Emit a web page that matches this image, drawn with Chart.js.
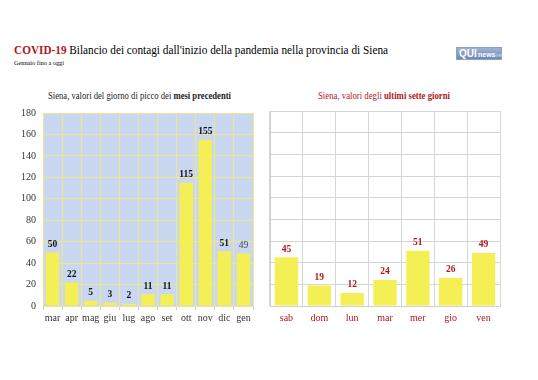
<!DOCTYPE html>
<html><head><meta charset="utf-8">
<script src="https://cdn.jsdelivr.net/npm/chart.js@4"></script>
<style>
html,body{margin:0;padding:0;background:#fff;width:538px;height:380px;overflow:hidden;font-family:"Liberation Serif","DejaVu Serif",serif;}
.t{position:absolute;white-space:nowrap;transform-origin:0 50%;line-height:1;}
#c1wrap{position:absolute;left:0;top:100px;width:262px;height:235px;}
#c2wrap{position:absolute;left:265px;top:100px;width:273px;height:235px;}
#logo{position:absolute;left:456px;top:47px;width:46px;height:13px;background:linear-gradient(#9fb3d6,#6f88b5);border:1px solid #8da0c4;box-sizing:border-box;font-family:"Liberation Sans",Arial,sans-serif;color:#fff;}
</style></head><body>
<div class="t" id="title" data-w="374" style="left:14px;top:43px;font-size:13px;"><b style="color:#b0161c">COVID-19</b> Bilancio dei contagi dall'inizio della pandemia nella provincia di Siena</div>
<div class="t" id="sub" data-w="50" style="left:14px;top:60px;font-size:7px;">Gennaio fino a oggi</div>
<div class="t" id="lt" data-w="183" style="left:48px;top:92px;font-size:9.5px;color:#222">Siena, valori del giorno di picco dei <b>mesi precedenti</b></div>
<div class="t" id="rt" data-w="132" style="left:318px;top:92px;font-size:9.5px;color:#b0161c">Siena, valori degli <b>ultimi sette giorni</b></div>
<div id="logo"><span style="position:absolute;left:2px;top:0px;font-size:10px;font-weight:bold;line-height:12px;">QUI</span><span style="position:absolute;left:21px;top:2px;font-size:7px;font-weight:bold;line-height:9px;">news</span><span style="position:absolute;left:37px;top:3px;font-size:5px;line-height:8px;color:#d8e0ef">.net</span></div>
<div id="c1wrap"><canvas id="c1"></canvas></div>
<div id="c2wrap"><canvas id="c2"></canvas></div>
<script>
const monthLabels = ['mar','apr','mag','giu','lug','ago','set','ott','nov','dic','gen'];
const monthPeaks = [50,22,5,3,2,11,11,115,155,51,49];
const dayLabels = ['sab','dom','lun','mar','mer','gio','ven'];
const dayValues = [45,19,12,24,51,26,49];
const yMax = 180;
const yStep = 20;

// fit headings to measured widths
document.querySelectorAll('.t').forEach(el=>{
  const w = parseFloat(el.dataset.w);
  const r = el.getBoundingClientRect().width;
  el.style.transform = 'scaleX(' + (w/r) + ')';
});

const SERIF = '"Liberation Serif","DejaVu Serif",serif';
const BAR = '#f4ef55';
const DARKRED = '#b0161c';

const plotBg = {
  id:'plotBg',
  beforeDraw(chart, args, opts){
    if(!opts.color) return;
    const a = chart.chartArea, ctx = chart.ctx;
    ctx.save(); ctx.fillStyle = opts.color;
    ctx.fillRect(a.left, a.top, a.right-a.left, a.bottom-a.top);
    ctx.restore();
  }
};
const valueLabels = {
  id:'valueLabels',
  afterDatasetsDraw(chart, args, opts){
    const ctx = chart.ctx;
    const meta = chart.getDatasetMeta(0);
    const data = chart.data.datasets[0].data;
    ctx.save();
    ctx.textAlign = 'center'; ctx.textBaseline = 'middle';
    meta.data.forEach((bar,i)=>{
      const s = opts.styles ? opts.styles(i) : {};
      ctx.font = (s.weight||'bold') + ' 9.5px ' + SERIF;
      ctx.fillStyle = s.color || opts.color;
      ctx.fillText(String(data[i]), bar.x, bar.y - 8);
    });
    ctx.restore();
  }
};

Chart.defaults.font.family = SERIF;
Chart.defaults.animation = false;

new Chart(document.getElementById('c1'), {
  type:'bar',
  data:{labels:monthLabels, datasets:[{data:monthPeaks, backgroundColor:BAR, barPercentage:0.7, categoryPercentage:1}]},
  options:{
    responsive:true, maintainAspectRatio:false,
    layout:{padding:{top:12,right:9,left:0,bottom:0}},
    plugins:{legend:{display:false}, tooltip:{enabled:false},
      plotBg:{color:'#c9d7f0'},
      valueLabels:{color:'#111', styles:i=> i===monthPeaks.length-1 ? {weight:'normal',color:'#444'} : {}}},
    scales:{
      x:{grid:{color:'#ebe88a', lineWidth:1, drawTicks:true, tickLength:4, tickColor:'#cccccc'}, border:{color:'#ebe88a'},
         ticks:{color:'#333', font:{size:10}, padding:2, maxRotation:0, autoSkip:false},
         afterFit(s){ s.height = 29; }},
      y:{min:0, max:yMax, ticks:{stepSize:yStep, color:'#333', font:{size:10}, padding:7},
         grid:{color:'#ebe88a', lineWidth:1, drawTicks:false}, border:{color:'#ebe88a'},
         afterFit(s){ s.width = 43; }}
    }
  },
  plugins:[plotBg, valueLabels]
});

new Chart(document.getElementById('c2'), {
  type:'bar',
  data:{labels:dayLabels, datasets:[{data:dayValues, backgroundColor:BAR, barPercentage:0.71, categoryPercentage:1}]},
  options:{
    responsive:true, maintainAspectRatio:false,
    layout:{padding:{top:11,right:38,left:5,bottom:0}},
    plugins:{legend:{display:false}, tooltip:{enabled:false}, valueLabels:{color:DARKRED}},
    scales:{
      x:{grid:{color:'#d6d6d6', lineWidth:1, drawTicks:false}, border:{color:'#cfcfcf'},
         ticks:{color:DARKRED, font:{size:10}, padding:6, maxRotation:0, autoSkip:false},
         afterFit(s){ s.height = 29; }},
      y:{min:0, max:yMax, ticks:{stepSize:yStep, display:false},
         grid:{color:'#d6d6d6', lineWidth:1, drawTicks:false}, border:{color:'#cfcfcf'},
         afterFit(s){ s.width = 0; }}
    }
  },
  plugins:[valueLabels]
});
</script>
</body></html>
